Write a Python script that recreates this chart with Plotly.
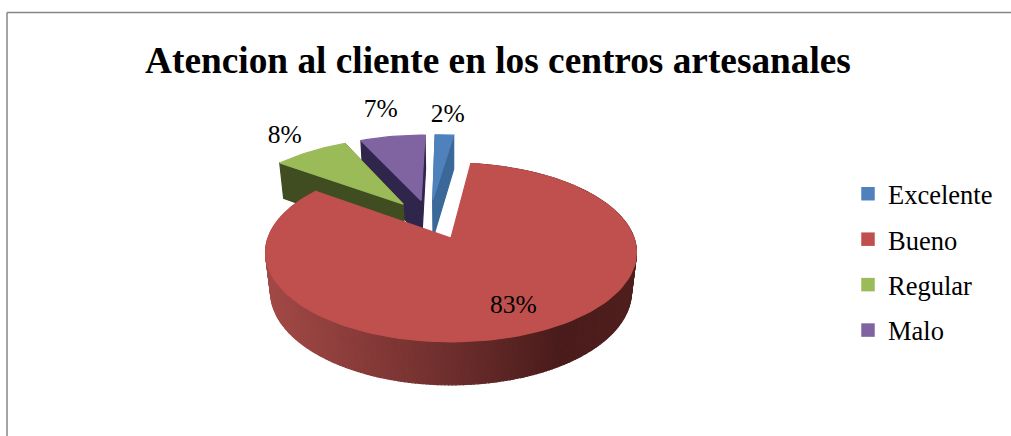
import math
import plotly.graph_objects as go

# Data
categories = ["Excelente", "Bueno", "Regular", "Malo"]
values = [2, 83, 8, 7]
title_text = "Atencion al cliente en los centros artesanales"

# Styles
top_colors = ["#4F81BD", "#C0504D", "#9BBB59", "#8064A2"]
wall_colors = ["#3A6899", None, "#3F4D20", "#30254A"]
gradient_x = [266, 400, 480, 560, 636]
gradient_rgb = [(163, 74, 71), (125, 54, 52), (100, 42, 41), (74, 28, 27), (80, 32, 31)]
label_radius = [1.35, 0.76, 1.32, 1.5]
FONT = "Liberation Serif"

# Projection of the tilted disc onto the page
CX, CY = 451, 238
R, A, B = 183.0, 87.0, 40.0
K, M = 0.162, 0.027
EXPLODE = 0.245
SMALL_SHIFT = -0.025


def project(u, v, z=0.0):
    w = 1 - K * v + M * z
    return CX + R * u / w, CY + (A * v + B * z) / w


def direction(deg):
    t = math.radians(deg)
    return math.sin(t), -math.cos(t)


total = sum(values)
spans = []
acc = 0.0
for val in values:
    spans.append((acc, acc + 360.0 * val / total))
    acc += 360.0 * val / total

big = values.index(max(values))
big_dir = direction(sum(spans[big]) / 2)
origin = (-EXPLODE * big_dir[0], -EXPLODE * big_dir[1])


def apex_of(i):
    d = direction(sum(spans[i]) / 2)
    shift = 0.0 if i == big else SMALL_SHIFT
    return origin[0] + EXPLODE * d[0] + shift, origin[1] + EXPLODE * d[1]


def rim(i, deg):
    a = apex_of(i)
    d = direction(deg)
    return a[0] + d[0], a[1] + d[1]


def wedge(i, z=0.0):
    s, e = spans[i]
    n = max(6, int((e - s) / 2))
    pts = [project(*apex_of(i), z)]
    for j in range(n + 1):
        pts.append(project(*rim(i, s + (e - s) * j / n), z))
    pts.append(pts[0])
    return pts


def poly(pts, color):
    return go.Scatter(
        x=[p[0] for p in pts], y=[p[1] for p in pts],
        mode="lines", fill="toself", fillcolor=color,
        line=dict(color=color, width=1.2),
        hoverinfo="skip", showlegend=False,
    )


def shade(x):
    if x <= gradient_x[0]:
        c = gradient_rgb[0]
    elif x >= gradient_x[-1]:
        c = gradient_rgb[-1]
    else:
        for k in range(len(gradient_x) - 1):
            if gradient_x[k] <= x <= gradient_x[k + 1]:
                f = (x - gradient_x[k]) / (gradient_x[k + 1] - gradient_x[k])
                c = [gradient_rgb[k][n] + f * (gradient_rgb[k + 1][n] - gradient_rgb[k][n]) for n in range(3)]
                break
    return "rgb(%d,%d,%d)" % tuple(c)


fig = go.Figure()
order = [3, 0, 2, 1]
for i in order:
    if i == big:
        s, e = spans[i]
        steps = int(e - s)
        for j in range(steps):
            a0 = s + (e - s) * j / steps
            a1 = s + (e - s) * (j + 1) / steps
            r0, r1 = rim(i, a0), rim(i, a1)
            quad = [project(*r0), project(*r1), project(*r1, 1.0), project(*r0, 1.0), project(*r0)]
            fig.add_trace(poly(quad, shade((quad[0][0] + quad[1][0]) / 2)))
    else:
        s, e = spans[i]
        a = apex_of(i)
        for edge in (s, e):
            r = rim(i, edge)
            fig.add_trace(poly([project(*a), project(*r), project(*r, 1.0), project(*a, 1.0), project(*a)], wall_colors[i]))
    fig.add_trace(poly(wedge(i), top_colors[i]))

# Percentage labels
lx, ly, lt = [], [], []
for i, val in enumerate(values):
    a = apex_of(i)
    d = direction(sum(spans[i]) / 2)
    p = project(a[0] + label_radius[i] * d[0], a[1] + label_radius[i] * d[1])
    lx.append(p[0])
    ly.append(p[1])
    lt.append("%d%%" % val)
fig.add_trace(go.Scatter(x=lx, y=ly, text=lt, mode="text", textposition="middle center",
                         textfont=dict(family=FONT, size=25.5, color="#000000"),
                         hoverinfo="skip", showlegend=False))

# Legend entries
for name, color in zip(categories, top_colors):
    fig.add_trace(go.Scatter(x=[None], y=[None], mode="markers", name=name, legendgroup=name,
                             marker=dict(symbol="square", size=13.5, color=color)))

fig.update_layout(
    width=1011, height=436,
    margin=dict(l=0, r=0, t=0, b=0),
    paper_bgcolor="white", plot_bgcolor="white",
    title=dict(text="<b>%s</b>" % title_text, x=498 / 1011, xanchor="center",
               y=1 - 60 / 436, yanchor="middle", yref="container",
               font=dict(family=FONT, size=37.3, color="#000000")),
    xaxis=dict(range=[0, 1011], visible=False, fixedrange=True),
    yaxis=dict(range=[436, 0], visible=False, fixedrange=True),
    legend=dict(x=848 / 1011, xanchor="left", y=1 - 262 / 436, yanchor="middle",
                font=dict(family=FONT, size=26.5, color="#000000"),
                tracegroupgap=8, bgcolor="rgba(0,0,0,0)", borderwidth=0),
    shapes=[
        dict(type="line", xref="paper", yref="paper", x0=7 / 1011, x1=1, y0=1 - 12.5 / 436, y1=1 - 12.5 / 436,
             line=dict(color="#868686", width=1.5)),
        dict(type="line", xref="paper", yref="paper", x0=7 / 1011, x1=7 / 1011, y0=1 - 12.5 / 436, y1=0,
             line=dict(color="#868686", width=1.5)),
    ],
)
fig.write_html("out.html", config={"displayModeBar": False},
               post_script="document.body.style.margin='0';document.documentElement.style.overflow='hidden';")
